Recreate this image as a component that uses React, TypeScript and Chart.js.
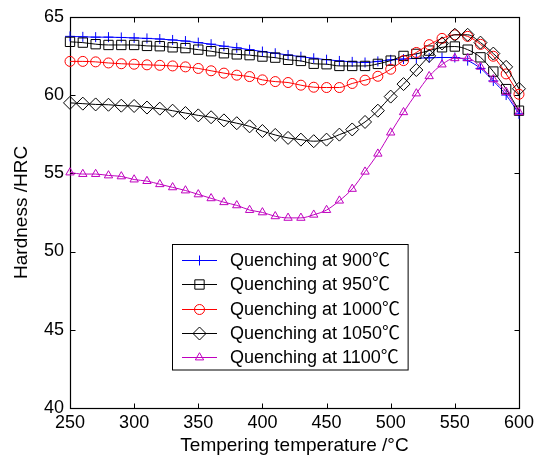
import React, { useEffect, useRef } from 'react';
import { Chart, registerables } from 'chart.js';

Chart.register(...registerables);

const temps = [250, 260, 270, 280, 290, 300, 310, 320, 330, 340, 350, 360, 370, 380, 390, 400, 410, 420, 430, 440, 450, 460, 470, 480, 490, 500, 510, 520, 530, 540, 550, 560, 570, 580, 590, 600];

const hrc900 = [63.75, 63.72, 63.7, 63.7, 63.68, 63.65, 63.62, 63.58, 63.52, 63.45, 63.35, 63.25, 63.12, 63.02, 62.9, 62.78, 62.67, 62.56, 62.45, 62.35, 62.26, 62.18, 62.12, 62.08, 62.15, 62.25, 62.3, 62.35, 62.38, 62.4, 62.4, 62.2, 61.7, 60.9, 60.0, 58.8];
const hrc950 = [63.4, 63.35, 63.25, 63.2, 63.2, 63.2, 63.14, 63.12, 63.05, 63.0, 62.9, 62.8, 62.67, 62.6, 62.55, 62.46, 62.39, 62.25, 62.18, 62.0, 61.97, 61.86, 61.86, 61.86, 61.99, 62.2, 62.5, 62.63, 62.84, 63.05, 63.1, 62.9, 62.41, 61.5, 60.38, 59.0];
const hrc1000 = [62.15, 62.15, 62.12, 62.05, 62.0, 61.97, 61.93, 61.9, 61.86, 61.8, 61.7, 61.55, 61.4, 61.27, 61.18, 60.97, 60.86, 60.8, 60.63, 60.5, 60.48, 60.48, 60.74, 60.95, 61.2, 61.65, 62.2, 62.72, 63.22, 63.62, 63.85, 63.75, 63.24, 62.48, 61.35, 60.05];
const hrc1050 = [59.5, 59.45, 59.4, 59.38, 59.32, 59.3, 59.2, 59.13, 59.0, 58.85, 58.7, 58.58, 58.38, 58.2, 58.0, 57.7, 57.45, 57.26, 57.15, 57.05, 57.15, 57.47, 57.8, 58.28, 59.0, 59.9, 60.7, 61.6, 62.5, 63.3, 63.85, 63.85, 63.35, 62.65, 61.8, 60.4];
const hrc1100 = [55.05, 54.95, 54.95, 54.86, 54.8, 54.6, 54.5, 54.3, 54.1, 53.9, 53.65, 53.4, 53.15, 52.95, 52.65, 52.5, 52.25, 52.15, 52.15, 52.35, 52.65, 53.25, 54.0, 55.1, 56.25, 57.6, 58.9, 60.1, 61.2, 61.95, 62.35, 62.35, 61.8, 61.0, 60.2, 58.9];

const seriesLabels = ['Quenching at 900℃', 'Quenching at 950℃', 'Quenching at 1000℃', 'Quenching at 1050℃', 'Quenching at 1100℃'];
const seriesValues = [hrc900, hrc950, hrc1000, hrc1050, hrc1100];
const seriesColors = ['#0000ff', '#000000', '#ff0000', '#000000', '#bf00bf'];
const seriesMarkers = ['cross', 'rect', 'circle', 'rectRot', 'triangle'];
const markerRadius = [5, 6.6, 5, 6.5, 4.8];

const xTitle = 'Tempering temperature /°C';
const yTitle = 'Hardness /HRC';

const FONT = '"Liberation Sans", "Noto Sans CJK SC", Arial, Helvetica, sans-serif';
const FS = 18;

function drawMarker(ctx: CanvasRenderingContext2D, style: string, x: number, y: number, r: number) {
  ctx.beginPath();
  if (style === 'cross') {
    ctx.moveTo(x - r, y); ctx.lineTo(x + r, y);
    ctx.moveTo(x, y - r); ctx.lineTo(x, y + r);
  } else if (style === 'rect') {
    const s = Math.SQRT1_2 * r;
    ctx.rect(x - s, y - s, 2 * s, 2 * s);
  } else if (style === 'circle') {
    ctx.arc(x, y, r, 0, Math.PI * 2);
  } else if (style === 'rectRot') {
    ctx.moveTo(x - r, y); ctx.lineTo(x, y - r); ctx.lineTo(x + r, y); ctx.lineTo(x, y + r); ctx.closePath();
  } else if (style === 'triangle') {
    for (let k = 0; k < 3; k++) {
      const a = k * (2 * Math.PI / 3);
      const px = x + Math.sin(a) * r, py = y - Math.cos(a) * r;
      if (k === 0) ctx.moveTo(px, py); else ctx.lineTo(px, py);
    }
    ctx.closePath();
  }
  ctx.stroke();
}

const framePlugin = {
  id: 'frameTicks',
  beforeDatasetsDraw(chart: any) {
    const { ctx, chartArea: a, scales } = chart;
    ctx.save();
    ctx.strokeStyle = '#000';
    ctx.lineWidth = 1.2;
    const L = Math.round(a.left) + 0.5, R = Math.round(a.right) + 0.5, T = Math.round(a.top) + 0.5, B = Math.round(a.bottom) + 0.5;
    ctx.strokeRect(L, T, R - L, B - T);
    ctx.lineWidth = 1;
    ctx.beginPath();
    scales.x.ticks.forEach((t: any) => {
      const px = Math.round(scales.x.getPixelForValue(t.value)) + 0.5;
      ctx.moveTo(px, B); ctx.lineTo(px, B - 5);
      ctx.moveTo(px, T); ctx.lineTo(px, T + 5);
    });
    scales.y.ticks.forEach((t: any) => {
      const py = Math.round(scales.y.getPixelForValue(t.value)) + 0.5;
      ctx.moveTo(L, py); ctx.lineTo(L + 5, py);
      ctx.moveTo(R, py); ctx.lineTo(R - 5, py);
    });
    ctx.stroke();
    ctx.restore();
  },
};

const legendPlugin = {
  id: 'boxLegend',
  afterDraw(chart: any) {
    const { ctx } = chart;
    ctx.save();
    ctx.font = `${FS}px ${FONT}`;
    const boxL = 172.5, boxT = 244.5, rowH = 24.3;
    const lineX0 = 182, lineX1 = 217, textX = 230;
    let maxW = 0;
    seriesLabels.forEach((s) => { maxW = Math.max(maxW, ctx.measureText(s).width); });
    const boxW = textX + maxW + 8 - boxL;
    const boxH = rowH * seriesLabels.length + 4;
    ctx.fillStyle = '#fff';
    ctx.fillRect(boxL, boxT, boxW, boxH);
    ctx.strokeStyle = '#000';
    ctx.lineWidth = 1;
    ctx.strokeRect(boxL, boxT, boxW, boxH);
    seriesLabels.forEach((s, i) => {
      const cy = boxT + 15.5 + i * rowH;
      ctx.strokeStyle = seriesColors[i];
      ctx.lineWidth = 1;
      ctx.beginPath();
      ctx.moveTo(lineX0, Math.round(cy) + 0.5);
      ctx.lineTo(lineX1, Math.round(cy) + 0.5);
      ctx.stroke();
      drawMarker(ctx, seriesMarkers[i], (lineX0 + lineX1) / 2, Math.round(cy) + 0.5, markerRadius[i]);
      ctx.fillStyle = '#000';
      ctx.textBaseline = 'middle';
      ctx.textAlign = 'left';
      ctx.fillText(s, textX, cy + 1);
    });
    ctx.restore();
  },
};

export default function App() {
  const ref = useRef<HTMLCanvasElement | null>(null);
  useEffect(() => {
    if (!ref.current) return;
    const datasets = seriesValues.map((vals, i) => ({
      label: seriesLabels[i],
      data: temps.map((t, j) => ({ x: t, y: vals[j] })),
      borderColor: seriesColors[i],
      backgroundColor: 'rgba(0,0,0,0)',
      borderWidth: 1,
      pointStyle: seriesMarkers[i],
      pointRadius: markerRadius[i],
      pointHoverRadius: markerRadius[i],
      pointBorderColor: seriesColors[i],
      pointBackgroundColor: 'rgba(0,0,0,0)',
      pointBorderWidth: 1,
      cubicInterpolationMode: 'monotone' as const,
      fill: false,
      clip: false as any,
      order: 4 - i,
    }));
    const chart = new Chart(ref.current, {
      type: 'line',
      data: { datasets },
      options: {
        animation: false,
        responsive: false,
        devicePixelRatio: 1,
        layout: { padding: { top: 15, right: 17, left: 0, bottom: 0 } },
        plugins: { legend: { display: false }, tooltip: { enabled: false } },
        scales: {
          x: {
            type: 'linear',
            min: 250,
            max: 600,
            afterFit: (s: any) => { s.height = 58; },
            grid: { display: false, drawTicks: false },
            border: { display: false },
            ticks: { stepSize: 50, color: '#000', font: { family: FONT, size: FS }, padding: 4, maxRotation: 0 },
            title: { display: true, text: xTitle, color: '#000', font: { family: FONT, size: 19 }, padding: { top: 0, bottom: 9 } },
          },
          y: {
            type: 'linear',
            min: 40,
            max: 65,
            afterFit: (s: any) => { s.width = 70; },
            grid: { display: false, drawTicks: false },
            border: { display: false },
            ticks: { stepSize: 5, color: '#000', font: { family: FONT, size: FS }, padding: 6 },
            title: { display: true, text: yTitle, color: '#000', font: { family: FONT, size: 19 }, padding: { top: 10, bottom: 0 } },
          },
        },
      },
      plugins: [framePlugin, legendPlugin],
    });
    return () => chart.destroy();
  }, []);
  return (
    <div style={{ position: 'fixed', left: 0, top: 0, width: 538, height: 466, background: '#fff' }}>
      <canvas ref={ref} width={538} height={466} />
    </div>
  );
}
